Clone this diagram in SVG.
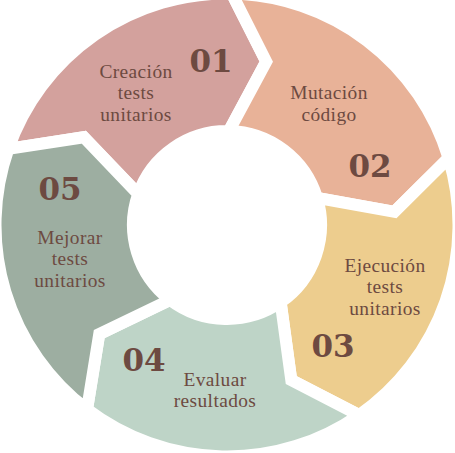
<svg xmlns="http://www.w3.org/2000/svg" width="455" height="453" viewBox="0 0 455 453">
<style>
.seg{stroke:#fff;stroke-width:12;stroke-linejoin:miter;stroke-miterlimit:20}
.s1{fill:#D3A19D}.s2{fill:#E8B298}.s3{fill:#EDCD8E}.s4{fill:#BED4C7}.s5{fill:#9DAEA1}
.lbl{font-family:"Liberation Serif","DejaVu Serif",serif;font-size:19.4px;letter-spacing:0.4px;fill:#6D4A41;text-anchor:middle}
.num{font-family:"DejaVu Serif","Liberation Serif",serif;font-weight:bold;font-size:31px;fill:#6D4A41;text-anchor:middle}
</style>
<rect width="455" height="453" fill="#fff"/>
<g id="node-01">
<path class="seg s1" d="M8.38,148.87 A231.5,231.5 0 0 1 231.85,-6.45 L266.22,61.64 L228.97,131.02 A94,94 0 0 0 138.23,194.09 L83.76,137.22 Z"/>
<text class="num" x="211" y="72">01</text>
<text class="lbl"><tspan x="136" y="77.5">Creación</tspan><tspan x="136" y="99">tests</tspan><tspan x="136" y="120.5">unitarios</tspan></text>
</g>
<g id="node-02">
<path class="seg s2" d="M231.85,-6.45 A231.5,231.5 0 0 1 448.62,158.09 L394.48,211.82 L316.99,197.83 A94,94 0 0 0 228.97,131.02 L266.22,61.64 Z"/>
<text class="lbl"><tspan x="329" y="99.2">Mutación</tspan><tspan x="329" y="120.7">código</tspan></text>
<text class="num" x="370" y="177">02</text>
</g>
<g id="node-03">
<path class="seg s3" d="M448.62,158.09 A231.5,231.5 0 0 1 359.12,415.10 L291.29,380.21 L280.65,302.19 A94,94 0 0 0 316.99,197.83 L394.48,211.82 Z"/>
<text class="lbl"><tspan x="385" y="271.5">Ejecución</tspan><tspan x="385" y="293">tests</tspan><tspan x="385" y="314.5">unitarios</tspan></text>
<text class="num" x="333" y="357">03</text>
</g>
<g id="node-04">
<path class="seg s4" d="M359.12,415.10 A231.5,231.5 0 0 1 87.03,409.40 L99.25,334.11 L170.17,299.87 A94,94 0 0 0 280.65,302.19 L291.29,380.21 Z"/>
<text class="num" x="144" y="371">04</text>
<text class="lbl"><tspan x="215" y="385.8">Evaluar</tspan><tspan x="215" y="407.3">resultados</tspan></text>
</g>
<g id="node-05">
<path class="seg s5" d="M87.03,409.40 A231.5,231.5 0 0 1 8.38,148.87 L83.76,137.22 L138.23,194.09 A94,94 0 0 0 170.17,299.87 L99.25,334.11 Z"/>
<text class="num" x="60" y="200">05</text>
<text class="lbl"><tspan x="70" y="243.5">Mejorar</tspan><tspan x="70" y="265">tests</tspan><tspan x="70" y="286.5">unitarios</tspan></text>
</g>
</svg>
